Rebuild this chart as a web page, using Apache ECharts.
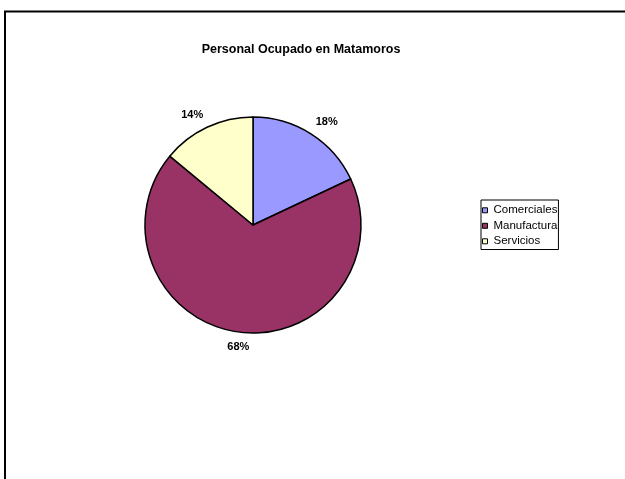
<!DOCTYPE html>
<html>
<head>
<meta charset="utf-8">
<style>
  html, body { margin: 0; padding: 0; background: #fff; }
  #chart { width: 625px; height: 479px; }
</style>
<script src="https://cdn.jsdelivr.net/npm/echarts@6/dist/echarts.min.js"></script>
</head>
<body>
<div id="chart"></div>
<script>
// Employed personnel in Matamoros by sector (percent)
const sectors = ['Comerciales', 'Manufactura', 'Servicios'];
const shares = [18, 68, 14];
const sectorColors = ['#9999FF', '#993366', '#FFFFCC'];
const chartTitle = 'Personal Ocupado en Matamoros';

const FONT = 'Arial, "Liberation Sans", sans-serif';
const CENTER = [253, 225];
const RADIUS = 108;
const LABEL_R = 117;   // distance from the centre where each label box starts

// mid angle of every slice, clockwise from 12 o'clock
const total = shares.reduce((a, b) => a + b, 0);
const midAngles = [];
let acc = 0;
shares.forEach(v => {
  midAngles.push((acc + v / 2) / total * 2 * Math.PI);
  acc += v;
});

const sliceData = sectors.map((name, i) => ({
  name: name,
  value: shares[i],
  itemStyle: { color: sectorColors[i] }
}));

const chart = echarts.init(document.getElementById('chart'), null, { renderer: 'canvas' });

chart.setOption({
  animation: false,
  backgroundColor: '#ffffff',
  graphic: [{
    type: 'rect',
    silent: true,
    shape: { x: 5, y: 11.5, width: 700, height: 600 },
    style: { fill: 'none', stroke: '#000', lineWidth: 2 }
  }],
  title: {
    text: chartTitle,
    left: 296,
    top: 38,
    textAlign: 'center',
    textStyle: { fontFamily: FONT, fontSize: 12.5, fontWeight: 'bold', color: '#000' }
  },
  legend: {
    orient: 'vertical',
    left: 481,
    top: 200,
    data: sectors,
    icon: 'rect',
    itemWidth: 5,
    itemHeight: 5,
    itemGap: 3.5,
    padding: [4.3, 1, 2.2, 1],
    borderColor: '#000',
    borderWidth: 1,
    selectedMode: false,
    itemStyle: { borderColor: '#000', borderWidth: 1 },
    textStyle: { fontFamily: FONT, fontSize: 11.5, color: '#000', padding: [0, 0, 0, 1] }
  },
  series: [{
    type: 'pie',
    center: CENTER,
    radius: RADIUS,
    startAngle: 90,
    clockwise: true,
    data: sliceData,
    itemStyle: { borderColor: '#000', borderWidth: 1.5 },
    label: {
      show: true,
      position: 'inside',
      formatter: '{d}%',
      fontFamily: FONT,
      fontSize: 11,
      fontWeight: 'bold',
      color: '#000'
    },
    // place each percent label just outside the rim, box corner facing the slice
    labelLayout: function (params) {
      const a = midAngles[params.dataIndex];
      const s = Math.sin(a), c = Math.cos(a);
      const px = CENTER[0] + LABEL_R * s;
      const py = CENTER[1] - LABEL_R * c;
      const align = Math.abs(s) < 0.3 ? 'center' : (s > 0 ? 'left' : 'right');
      return {
        x: px,
        y: c > 0 ? py - 4 : py + 5.5,
        align: align,
        verticalAlign: 'middle'
      };
    },
    labelLine: { show: false },
    emphasis: { disabled: true }
  }]
});
</script>
</body>
</html>
